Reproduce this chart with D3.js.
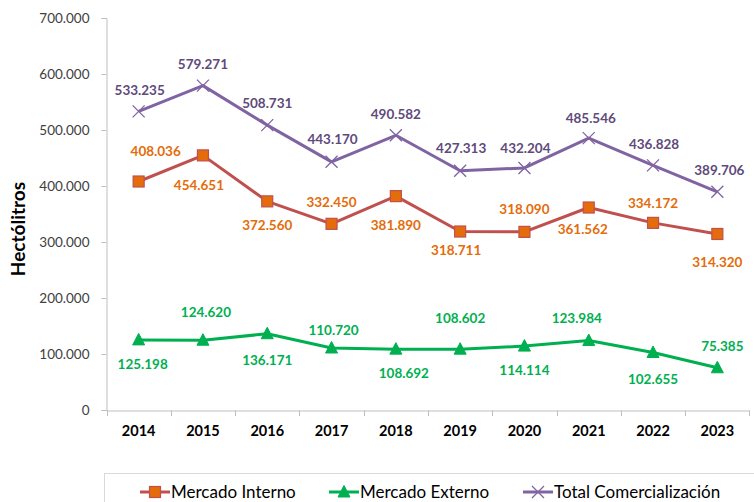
<!DOCTYPE html>
<html>
<head>
<meta charset="utf-8">
<script src="https://cdn.jsdelivr.net/npm/d3@7"></script>
<style>
  html, body { margin: 0; padding: 0; background: #fff; }
  svg { display: block; font-family: Lato, "Open Sans", sans-serif; }
</style>
</head>
<body>
<svg id="chart" width="754" height="502"></svg>
<script>
// ---- data ----
const years = ["2014","2015","2016","2017","2018","2019","2020","2021","2022","2023"];
const mercadoInterno = [408036, 454651, 372560, 332450, 381890, 318711, 318090, 361562, 334172, 314320];
const mercadoExterno = [125198, 124620, 136171, 110720, 108692, 108602, 114114, 123984, 102655, 75385];
const totalComercializacion = [533235, 579271, 508731, 443170, 490582, 427313, 432204, 485546, 436828, 389706];
const yTicks = [0, 100000, 200000, 300000, 400000, 500000, 600000, 700000];
const seriesNames = ["Mercado Interno", "Mercado Externo", "Total Comercialización"];

// label placement (layout only): vertical / horizontal offsets of each value label
const internoLabelDy = [-30, 30, 24, -22, 29, 19, -23, 22, -20, 28];
const internoLabelDx = [17, -4, 0, 0, 0, -4, 0, -6, 0, 0];
const externoLabelDy = [24, -28, 27, -18, 24, -31, 24, -22, 27, -22];
const externoLabelDx = [4, 3, 0, 2, 8, 0, 0, -12, 0, 5];
const totalLabelDy = [-21, -21, -22, -23, -21, -22, -20, -20, -21, -21];
const totalLabelDx = [1, 0, 0, 1, 0, 1, 1, 2, 1, 2];

// ---- setup ----
const svg = d3.select("#chart");
const fmt = v => d3.format(",")(v).replace(/,/g, ".");

const x = d3.scaleBand().domain(years).range([106.5, 749.5]).padding(0);
const cx = d => x(d) + x.bandwidth() / 2;
const y = d3.scaleLinear().domain([0, 700000]).range([410, 18]);

const axisColor = "#BFBFBF";

// y axis
const yAxis = d3.axisLeft(y).tickValues(yTicks).tickSize(5).tickPadding(12)
  .tickFormat(v => v === 0 ? "0" : fmt(v));
const gy = svg.append("g").attr("transform", "translate(106.5,0)").call(yAxis);
gy.select(".domain").attr("stroke", axisColor).attr("stroke-width", 1);
gy.selectAll(".tick line").attr("stroke", axisColor);
gy.selectAll(".tick text").attr("fill", "#404040").attr("font-size", 13.5)
  .attr("font-family", "Lato, sans-serif");

// x axis (labels)
const xAxis = d3.axisBottom(x).tickSize(0).tickPadding(15);
const gx = svg.append("g").attr("transform", "translate(0,410.5)").call(xAxis);
gx.select(".domain").attr("stroke", axisColor).attr("stroke-width", 1);
gx.selectAll(".tick text").attr("fill", "#000").attr("font-size", 14.5)
  .attr("font-weight", "bold").attr("font-family", "Lato, sans-serif");
// category boundary ticks
const bounds = years.map(d => x(d)).concat([x(years[years.length - 1]) + x.bandwidth()]);
svg.append("g").selectAll("line").data(bounds).join("line")
  .attr("x1", d => Math.round(d) + 0.5).attr("x2", d => Math.round(d) + 0.5)
  .attr("y1", 410.5).attr("y2", 416)
  .attr("stroke", axisColor);

// y axis title
svg.append("text")
  .attr("transform", "translate(25,229) rotate(-90)")
  .attr("text-anchor", "middle")
  .attr("font-size", 19).attr("font-weight", "bold").attr("fill", "#000")
  .text("Hectólitros");

// ---- series ----
const line = d3.line().x(d => cx(d.year)).y(d => y(d.value));
function toPts(arr) { return years.map((yr, i) => ({ year: yr, value: arr[i], i })); }

const series = [
  { name: seriesNames[2], data: toPts(totalComercializacion), color: "#8064A2", labelColor: "#604A7B", marker: "x", dy: totalLabelDy, dx: totalLabelDx },
  { name: seriesNames[0], data: toPts(mercadoInterno), color: "#C0504D", labelColor: "#E46C0A", marker: "square", dy: internoLabelDy, dx: internoLabelDx },
  { name: seriesNames[1], data: toPts(mercadoExterno), color: "#00B050", labelColor: "#00B050", marker: "triangle", dy: externoLabelDy, dx: externoLabelDx }
];

function drawMarker(g, type, color) {
  if (type === "square") {
    g.append("rect").attr("x", -5.5).attr("y", -5.5).attr("width", 11).attr("height", 11)
      .attr("fill", "#E46C0A").attr("stroke", "#C0504D").attr("stroke-width", 1.2);
  } else if (type === "triangle") {
    g.append("path").attr("d", "M0,-6.5 L6,5 L-6,5 Z").attr("fill", color).attr("stroke", color).attr("stroke-width", 1);
  } else {
    g.append("path").attr("d", "M-6,-6 L6,6 M-6,6 L6,-6").attr("stroke", color).attr("stroke-width", 1.3).attr("fill", "none");
  }
}

series.forEach(s => {
  svg.append("path").datum(s.data).attr("d", line)
    .attr("fill", "none").attr("stroke", s.color).attr("stroke-width", 3)
    .attr("stroke-linejoin", "round");
  s.data.forEach(d => {
    const g = svg.append("g").attr("transform", `translate(${cx(d.year)},${y(d.value)})`);
    drawMarker(g, s.marker, s.color);
  });
  svg.append("g").selectAll("text").data(s.data).join("text")
    .attr("x", d => cx(d.year) + s.dx[d.i])
    .attr("y", d => y(d.value) + s.dy[d.i])
    .attr("dy", "0.35em")
    .attr("text-anchor", "middle")
    .attr("font-size", 13.5).attr("font-weight", "bold")
    .attr("fill", s.labelColor)
    .text(d => fmt(d.value));
});

// ---- legend ----
svg.append("rect").attr("x", 104.5).attr("y", 473.5).attr("width", 700).attr("height", 60)
  .attr("fill", "#fff").attr("stroke", "#D9D9D9").attr("stroke-width", 1);
const legendItems = [
  { name: seriesNames[0], color: "#C0504D", marker: "square", x0: 140 },
  { name: seriesNames[1], color: "#00B050", marker: "triangle", x0: 329 },
  { name: seriesNames[2], color: "#8064A2", marker: "x", x0: 523 }
];
legendItems.forEach(it => {
  const g = svg.append("g").attr("transform", `translate(${it.x0},492)`);
  g.append("line").attr("x1", 0).attr("x2", 30).attr("y1", 0).attr("y2", 0)
    .attr("stroke", it.color).attr("stroke-width", 3);
  const m = g.append("g").attr("transform", "translate(15,0)");
  drawMarker(m, it.marker, it.color);
  g.append("text").attr("x", 31).attr("y", 0).attr("dy", "0.36em")
    .attr("font-size", 17).attr("fill", "#000").text(it.name);
});
</script>
</body>
</html>
